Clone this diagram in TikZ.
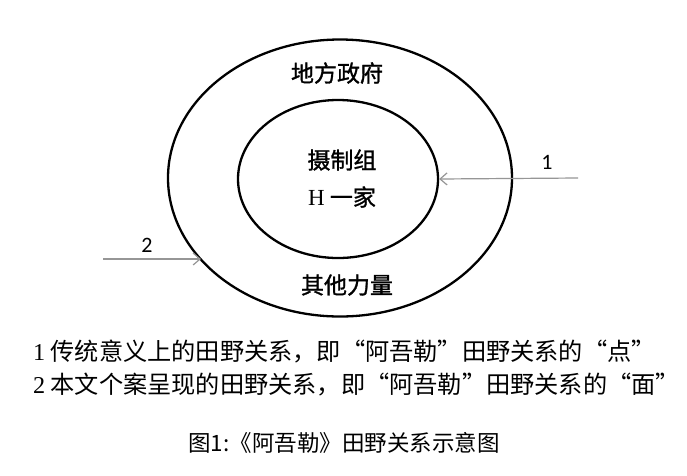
\documentclass[tikz,border=0pt]{standalone}
\usepackage{fontspec}
\setmainfont{Liberation Serif}
\newfontfamily\cjk{Noto Sans CJK SC}
\newfontfamily\cjkmed[FakeBold=1.2]{Noto Sans CJK SC}
\newfontfamily\numfont{Carlito}
\usetikzlibrary{arrows.meta,shapes.geometric}
\definecolor{arrgray}{RGB}{150,150,150}
\begin{document}
\begin{tikzpicture}[x=1pt,y=-1pt,
  ring/.style={draw, ellipse, line width=2.3pt, inner sep=0pt},
  ringlabel/.style={font=\cjkmed\fontsize{23}{26}\selectfont, inner sep=0pt},
  numlabel/.style={font=\numfont\fontsize{22}{24}\selectfont, inner sep=0pt},
  pointer/.style={draw=arrgray, line width=1.2pt, -{Straight Barb[length=7pt,width=12pt]}},
  noteline/.style={font=\cjk\fontsize{24.2}{27}\selectfont, inner sep=0pt, anchor=west},
  captionline/.style={font=\cjk\fontsize{22.5}{25}\selectfont, inner sep=0pt}]
\useasboundingbox[fill=white] (0,0) rectangle (687,475);
\node[ring, minimum width=344pt, minimum height=277pt] (outer) at (340,178) {};
\node[ring, minimum width=200pt, minimum height=158pt] (inner) at (338,179) {};
\node[ringlabel] (gov) at (337,73) {地方政府};
\node[ringlabel] (crew) at (342,160) {摄制组};
\node[ringlabel] (family) at (342,197) {{\rmfamily H} 一家};
\node[ringlabel] (other) at (347,285) {其他力量};
\coordinate (s1) at (578,178);
\coordinate (s2) at (103,259);
\coordinate (e2) at (201,259);
\draw[pointer] (s1) -- (inner.east);
\draw[pointer] (s2) -- (e2);
\node[numlabel] (n1) at (547,162) {1};
\node[numlabel] (n2) at (147,245) {2};
\node[noteline] (note1) at (33,352) {{\rmfamily 1} 传统意义上的田野关系，即“阿吾勒”田野关系的“点”};
\node[noteline] (note2) at (33,385) {{\rmfamily 2} 本文个案呈现的田野关系，即“阿吾勒”田野关系的“面”};
\node[captionline] (cap) at (344,443) {图1:《阿吾勒》田野关系示意图};
\end{tikzpicture}
\end{document}
